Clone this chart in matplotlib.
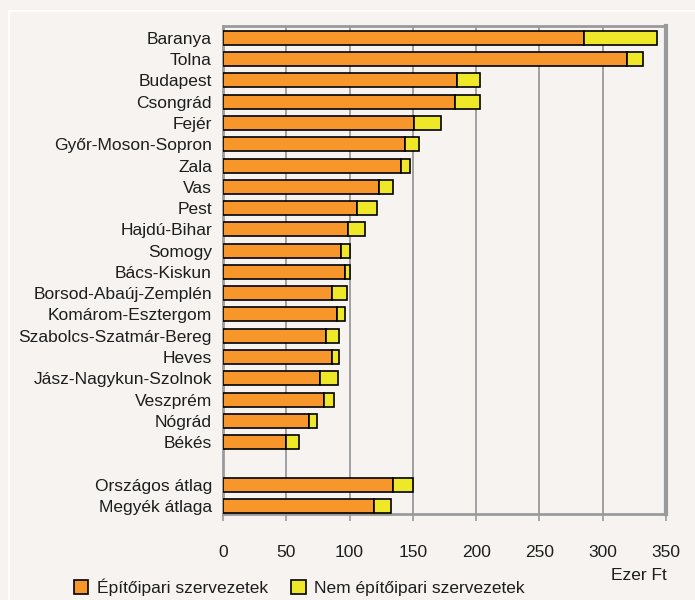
import numpy as np
import matplotlib
matplotlib.use("Agg")
import matplotlib.pyplot as plt
from matplotlib.patches import Patch, Rectangle

plt.rcParams['font.family'] = ['Liberation Sans Narrow', 'Liberation Sans', 'DejaVu Sans']

# county names, top to bottom ('' = empty row before the averages)
regions = ['Baranya', 'Tolna', 'Budapest', 'Csongrád', 'Fejér', 'Győr-Moson-Sopron',
           'Zala', 'Vas', 'Pest', 'Hajdú-Bihar', 'Somogy', 'Bács-Kiskun',
           'Borsod-Abaúj-Zemplén', 'Komárom-Esztergom', 'Szabolcs-Szatmár-Bereg',
           'Heves', 'Jász-Nagykun-Szolnok', 'Veszprém', 'Nógrád', 'Békés',
           '', 'Országos átlag', 'Megyék átlaga']
# Építőipari szervezetek (ezer Ft)
epitoipari = [285, 319, 185, 183, 151, 144, 141, 123, 106, 99, 93, 96,
              86, 90, 81, 86, 77, 80, 68, 50, np.nan, 134, 119]
# Nem építőipari szervezetek (ezer Ft)
nem_epitoipari = [58, 13, 18, 20, 21, 11, 7, 11, 16, 13, 7, 4,
                  12, 6, 11, 6, 14, 8, 6, 10, np.nan, 16, 14]

xticks = [0, 50, 100, 150, 200, 250, 300, 350]

bg = '#f6f3f0'
orange = '#f7962b'
yellow = '#efe828'
grey = '#9a9a9c'
txt = '#1e1e1e'

fig = plt.figure(figsize=(6.95, 6.0), dpi=100, facecolor=bg)
ax = fig.add_axes([223 / 695, 1 - 514 / 600, 443 / 695, 488 / 600], facecolor=bg)

# thin white frame round the chart
fig.patches.append(Rectangle((9 / 695, -0.1), 1.0, 1 - 11 / 600 + 0.1, transform=fig.transFigure,
                             fill=False, edgecolor='white', linewidth=1.5, zorder=0))

y = np.arange(len(regions))
h = 0.66
a = np.array(epitoipari, dtype=float)
b = np.array(nem_epitoipari, dtype=float)
ax.barh(y, a, height=h, color=orange, edgecolor='black', linewidth=1.2, zorder=3)
ax.barh(y, b, left=a, height=h, color=yellow, edgecolor='black', linewidth=1.2, zorder=3)

ax.set_xlim(0, 350)
ax.set_ylim(22.38, -0.56)
ax.set_yticks(y)
ax.set_yticklabels(regions, fontsize=12.5, color=txt)
ax.tick_params(axis='y', length=0, pad=8)
ax.set_xticks(xticks)
ax.set_xticklabels([str(t) for t in xticks], fontsize=12.5, color=txt)
ax.tick_params(axis='x', length=5, width=1.2, color=grey, pad=17)

ax.grid(axis='x', color=grey, linewidth=1.3, zorder=1)
ax.set_axisbelow(True)
for side in ['left', 'top', 'bottom']:
    ax.spines[side].set_color(grey)
    ax.spines[side].set_linewidth(2)
ax.spines['right'].set_color(grey)
ax.spines['right'].set_linewidth(3)

fig.text(667 / 695, 1 - 576 / 600, 'Ezer Ft', ha='right', va='center', fontsize=12.5, color=txt)

handles = [Patch(facecolor=orange, edgecolor='black', linewidth=1.2),
           Patch(facecolor=yellow, edgecolor='black', linewidth=1.2)]
fig.legend(handles, ['Építőipari szervezetek', 'Nem építőipari szervezetek'],
           loc='center left', bbox_to_anchor=(58 / 695, 1 - 587 / 600), ncol=2,
           frameon=False, fontsize=12.5, handlelength=0.85, handleheight=0.85,
           handletextpad=0.5, columnspacing=1.3, labelcolor=txt)

fig.savefig('out.png', dpi=100, facecolor=bg)
